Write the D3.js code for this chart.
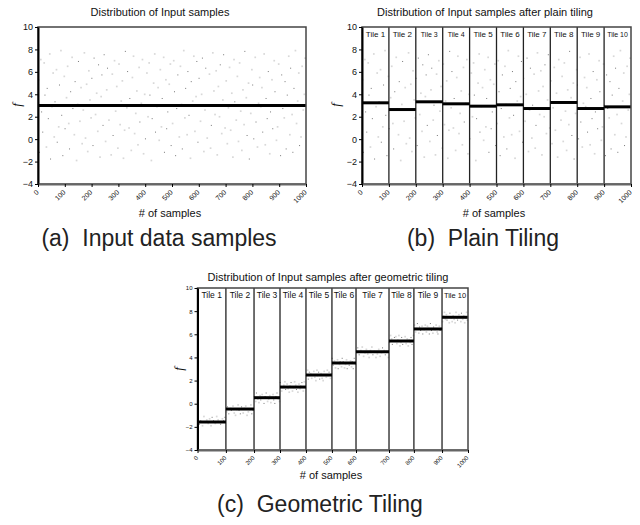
<!DOCTYPE html>
<html lang="en">
<head>
<meta charset="UTF-8">
<title>Distribution of Input samples</title>
<script src="https://d3js.org/d3.v7.min.js"></script>
<style>
  body { margin: 0; background: #fff; }
  text { font-family: "Liberation Sans", Arial, sans-serif; fill: #111; }
  .title { font-size: 11px; text-anchor: middle; }
  .xlabel { font-size: 11px; text-anchor: middle; }
  .flabel { font-family: "Liberation Serif", "Times New Roman", serif; font-style: italic; font-size: 13px; text-anchor: middle; }
  .caption { font-size: 23px; text-anchor: middle; fill: #222; }
  .tile { text-anchor: middle; }
</style>
</head>
<body>
<svg width="640" height="525"></svg>
<script>
const svg = d3.select("svg");

// axis ticks
const yTicks = [-4, -2, 0, 2, 4, 6, 8, 10];
const xTickLabels = ["0", "100", "200", "300", "400", "500", "600", "700", "800", "900", "1000"];
const tileNames = ["Tile 1", "Tile 2", "Tile 3", "Tile 4", "Tile 5", "Tile 6", "Tile 7", "Tile 8", "Tile 9", "Tile 10"];

// tile boundaries in sample count
const fullEdges = [0, 1000];
const plainEdges = [0, 100, 200, 300, 400, 500, 600, 700, 800, 900, 1000];
const geoEdges = [0, 105, 209, 305, 401, 497, 586, 708, 800, 904, 1000];
// value range covered by each geometric tile
const geoBands = [-2, -1, 0, 1, 2, 3, 4, 5, 6, 7, 8];

// tile averages (thick lines)
const inputMean = [3.0];
const plainMeans = [3.24, 2.64, 3.33, 3.15, 2.94, 3.06, 2.73, 3.27, 2.73, 2.88];
const geoMeans = [-1.58, -0.46, 0.52, 1.44, 2.48, 3.52, 4.5, 5.42, 6.46, 7.47];

// input samples, in sample order
const samples = [
  5.3, -1.2, 7.1, 2.4, 0.6, 6.8, 3.9, -0.7, 4.5, 1.8, 7.6, -1.8, 2.9, 5.9, 0.2, 3.3, 6.2, -0.3, 1.1, 4.8,
  7.9, 2.1, -1.5, 5.6, 0.9, 3.7, 6.5, 1.4, -0.9, 4.2, 7.3, 2.7, 0.4, 5.1, -1.9, 3.1, 6.9, 1.6, 4.6, -0.4,
  2.6, 7.7, 0.1, 4.9, -1.1, 6.1, 3.5, 1.9, 5.4, -0.6, 7.2, 2.2, 4.1, 0.7, 6.6, -1.6, 3.8, 5.7, 1.2, 7.5,
  -0.2, 4.4, 6.3, 1.7, 3.0, -1.4, 5.8, 0.3, 7.0, 2.5, 4.7, -0.8, 6.7, 1.3, 3.4, 5.2, -1.7, 0.8, 7.8, 2.8,
  6.0, 1.0, 3.6, -1.0, 5.5, 7.4, 0.5, 2.3, 4.3, -0.5, 6.4, 1.5, 3.2, 7.1, -1.3, 4.0, 0.0, 5.9, 2.0, 6.8,
  3.9, -1.9, 1.8, 5.0, 7.6, 0.6, 2.9, 4.6, -0.1, 6.2, 1.1, 3.6, 7.3, -1.2, 5.3, 0.9, 2.4, 4.9, 6.7, -0.6,
  1.4, 7.0, 4.2, -1.5, 2.7, 5.7, 0.2, 6.5, 3.1, -0.9, 7.9, 1.9, 4.5, 0.4, 6.0, 2.1, -1.7, 5.1, 3.4, 7.4,
  0.7, 3.8, 6.9, -0.3, 5.4, 1.6, 4.0, 7.2, -1.1, 2.6, 6.3, 0.1, 3.0, 5.8, -0.8, 1.2, 7.7, 4.3, 2.2, 6.1,
  -1.4, 4.7, 2.0, 6.6, 0.5, 3.5, 7.5, 1.0, 5.2, -0.4, 2.8, 6.4, 0.8, 4.1, -1.6, 7.1, 3.3, 1.7, 5.6, -0.2,
  6.8, 2.5, -1.0, 4.4, 1.3, 7.8, 3.7, 0.3, 5.0, -1.8, 2.3, 6.2, 4.8, 0.0, 7.3, 1.5, -0.7, 3.2, 5.5, 2.9,
  4.6, 0.6, 7.6, -0.5, 3.6, 1.8, 6.0, -1.3, 2.4, 5.3, 0.9, 7.0, 4.2, -0.1, 1.1, 6.7, 3.0, -1.5, 5.7, 2.7,
  1.9, 5.1, -0.9, 3.9, 7.4, 0.4, 6.3, 2.2, -1.2, 4.5, 7.9, 1.4, 3.4, 5.9, -0.6, 0.2, 6.5, 2.6, 4.0, 7.2
];

// points in sample order
const inputPoints = samples.map((v, i) => ({ x: (i + 0.5) * 1000 / samples.length, y: v }));

// geometric tiling: each tile holds the samples of its value band
const geoPoints = [];
for (let k = 0; k < 10; k++) {
  const inBand = samples.filter(v => v >= geoBands[k] && v < geoBands[k + 1]);
  const w = geoEdges[k + 1] - geoEdges[k];
  inBand.forEach((v, j) => geoPoints.push({ x: geoEdges[k] + (j + 0.5) * w / inBand.length, y: v }));
}

// a few samples print darker than the rest
const isDark = d => Math.round(Math.abs(d.y) * 10) % 3 === 0;

function drawPanel(p) {
  const g = svg.append("g");
  const x = d3.scaleLinear().domain([0, 1000]).range([p.left, p.right]);
  const y = d3.scaleLinear().domain([-4, 10]).range([p.bottom, p.top]);

  // sample dots
  g.append("g").selectAll("rect").data(p.points).join("rect")
    .attr("x", d => x(d.x) - 0.8)
    .attr("y", d => y(d.y) - 0.8)
    .attr("width", d => isDark(d) ? 1 : 1.7)
    .attr("height", d => isDark(d) ? 1 : 1.7)
    .attr("fill", d => isDark(d) ? "#777" : "#d8d8d8");

  // tile separators
  const inner = p.edges.slice(1, -1);
  g.append("g").selectAll("line").data(inner).join("line")
    .attr("x1", d => x(d)).attr("x2", d => x(d))
    .attr("y1", y(10)).attr("y2", y(-4))
    .attr("stroke", "#222").attr("stroke-width", 1.3);

  // tile names
  if (p.tileLabels) {
    g.append("g").selectAll("text").data(tileNames).join("text")
      .attr("class", "tile")
      .attr("x", (d, i) => (x(p.edges[i]) + x(p.edges[i + 1])) / 2)
      .attr("y", p.top + p.tileDy)
      .style("font-size", (d, i) => p.smallTiles.includes(i) ? (p.tileSize - 1) + "px" : p.tileSize + "px")
      .text(d => d);
  }

  // tile averages
  g.append("g").selectAll("line").data(p.means).join("line")
    .attr("x1", (d, i) => x(p.edges[i])).attr("x2", (d, i) => x(p.edges[i + 1]))
    .attr("y1", d => y(d)).attr("y2", d => y(d))
    .attr("stroke", "#000").attr("stroke-width", 3);

  // plot frame
  g.append("rect")
    .attr("x", p.left).attr("y", p.top)
    .attr("width", p.right - p.left).attr("height", p.bottom - p.top)
    .attr("fill", "none").attr("stroke", "#444").attr("stroke-width", 1.5);

  // y axis
  const ya = g.append("g")
    .attr("transform", `translate(${p.left},0)`)
    .call(d3.axisLeft(y).tickValues(yTicks).tickSize(3).tickSizeOuter(0).tickPadding(2));
  ya.select(".domain").attr("stroke", "#000").attr("stroke-width", 2);
  ya.selectAll("text").style("font-size", p.yFont + "px").attr("fill", "#111");

  // x axis
  const xa = g.append("g")
    .attr("transform", `translate(0,${p.bottom})`)
    .call(d3.axisBottom(x).tickValues(p.edges.length > 2 ? p.edges : plainEdges)
      .tickFormat((d, i) => xTickLabels[i]).tickSize(3).tickSizeOuter(0));
  xa.select(".domain").attr("stroke", "#666").attr("stroke-width", 2);
  xa.selectAll("text")
    .style("font-size", p.xFont + "px").attr("fill", "#222")
    .attr("text-anchor", "end")
    .attr("x", 0).attr("y", 0).attr("dy", "0.35em")
    .attr("transform", "translate(-1,7) rotate(-45)");

  // texts
  g.append("text").attr("class", "title").attr("x", p.titleX).attr("y", p.titleY).text(p.title);
  g.append("text").attr("class", "xlabel").attr("x", p.xlabelX).attr("y", p.xlabelY).text("# of samples");
  g.append("text").attr("class", "flabel")
    .attr("transform", `translate(${p.fX},${p.fY}) rotate(-90)`).text("f");
  g.append("text").attr("class", "caption").attr("x", p.capX).attr("y", p.capY).text(p.caption);
}

drawPanel({
  left: 38, right: 306, top: 27, bottom: 184,
  points: inputPoints, edges: fullEdges, means: inputMean, tileLabels: false,
  yFont: 9, xFont: 7,
  title: "Distribution of Input samples", titleX: 160, titleY: 16,
  xlabelX: 170, xlabelY: 217, fX: 21, fY: 105,
  caption: "(a)\u00a0\u00a0Input data samples", capX: 159, capY: 246
});

drawPanel({
  left: 362, right: 631, top: 27, bottom: 184,
  points: inputPoints, edges: plainEdges, means: plainMeans,
  tileLabels: true, tileDy: 10, tileSize: 8, smallTiles: [2, 3, 9],
  yFont: 9, xFont: 7,
  title: "Distribution of Input samples after plain tiling", titleX: 485, titleY: 16,
  xlabelX: 494, xlabelY: 217, fX: 340, fY: 105,
  caption: "(b)\u00a0\u00a0Plain Tiling", capX: 483, capY: 246
});

drawPanel({
  left: 197.5, right: 468, top: 288, bottom: 450,
  points: geoPoints, edges: geoEdges, means: geoMeans,
  tileLabels: true, tileDy: 10, tileSize: 8.5, smallTiles: [9],
  yFont: 6, xFont: 6,
  title: "Distribution of Input samples after geometric tiling", titleX: 328, titleY: 281,
  xlabelX: 331, xlabelY: 479, fX: 183, fY: 369,
  caption: "(c)\u00a0\u00a0Geometric Tiling", capX: 320, capY: 512
});
</script>
</body>
</html>
